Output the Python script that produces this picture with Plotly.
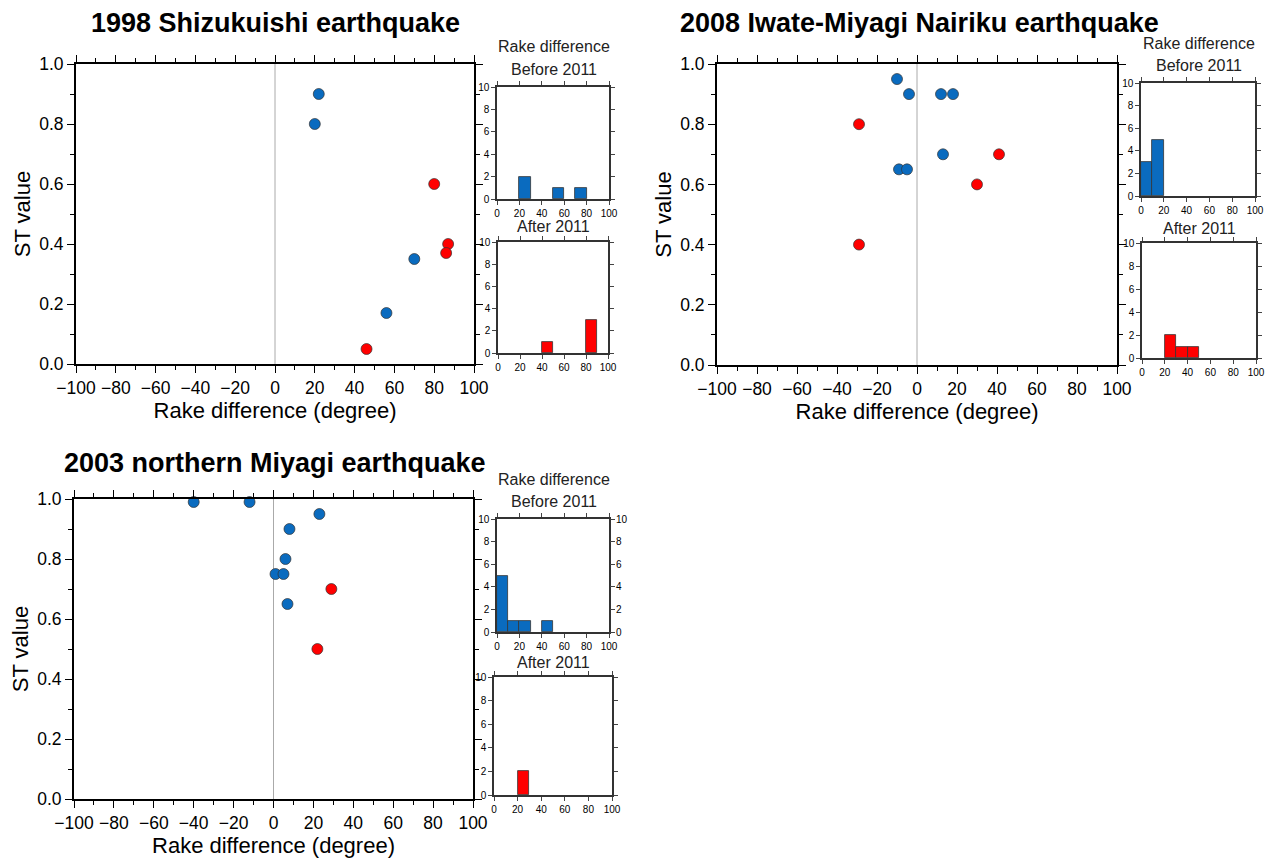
import plotly.graph_objects as go

W, H = 1270, 858

# ---- data ----
titles = ["1998 Shizukuishi earthquake", "2008 Iwate-Miyagi Nairiku earthquake", "2003 northern Miyagi earthquake"]

p1_before_x = [22, 20, 70, 56]
p1_before_y = [0.90, 0.80, 0.35, 0.17]
p1_after_x = [80, 87, 86, 46]
p1_after_y = [0.60, 0.40, 0.37, 0.05]

p2_before_x = [-10, -4, 12, 18, 13, -9, -5]
p2_before_y = [0.95, 0.90, 0.90, 0.90, 0.70, 0.65, 0.65]
p2_after_x = [-29, -29, 41, 30]
p2_after_y = [0.80, 0.40, 0.70, 0.60]

p3_before_x = [-40, -12, 23, 8, 6, 1, 5, 7]
p3_before_y = [0.99, 0.99, 0.95, 0.90, 0.80, 0.75, 0.75, 0.65]
p3_after_x = [29, 22]
p3_after_y = [0.70, 0.50]

bin_centers = [5, 15, 25, 35, 45, 55, 65, 75, 85, 95]
p1_hist_before = [0, 0, 2, 0, 0, 1, 0, 1, 0, 0]
p1_hist_after = [0, 0, 0, 0, 1, 0, 0, 0, 3, 0]
p2_hist_before = [3, 5, 0, 0, 0, 0, 0, 0, 0, 0]
p2_hist_after = [0, 0, 2, 1, 1, 0, 0, 0, 0, 0]
p3_hist_before = [5, 1, 1, 0, 1, 0, 0, 0, 0, 0]
p3_hist_after = [0, 0, 2, 0, 0, 0, 0, 0, 0, 0]

BLUE = "#0a6bbf"
RED = "#ff0000"
FONT = "Liberation Sans, Arial, Helvetica, sans-serif"


def px_x(p):
    return p / W


def px_y(p):
    return 1 - p / H


fig = go.Figure()
layout = dict(width=W, height=H, margin=dict(l=0, r=0, t=0, b=0, autoexpand=False),
              paper_bgcolor="white", plot_bgcolor="white", showlegend=False,
              font=dict(family=FONT, color="black"))
annotations = []
shapes = []

# main panels: (left, right, top, bottom) in pixels
main_boxes = [(76, 474, 64, 364), (717, 1117, 64, 365), (74, 473, 499, 799)]
main_data = [
    (p1_before_x, p1_before_y, p1_after_x, p1_after_y),
    (p2_before_x, p2_before_y, p2_after_x, p2_after_y),
    (p3_before_x, p3_before_y, p3_after_x, p3_after_y),
]
title_pos = [(275, 23), (919, 23), (275, 463)]

# histogram boxes: (left, right, top, bottom)
hist_boxes = [
    [(497, 609, 87, 199), (498, 608, 242, 353)],
    [(1141, 1255, 83, 196), (1142, 1256, 243, 358)],
    [(497, 609, 519, 632), (494, 612, 677, 795)],
]
hist_data = [
    (p1_hist_before, p1_hist_after),
    (p2_hist_before, p2_hist_after),
    (p3_hist_before, p3_hist_after),
]

ax = 0


def axname(i):
    return "" if i == 1 else str(i)


for k in range(3):
    # --- main scatter ---
    ax += 1
    n = axname(ax)
    l, r, t, b = main_boxes[k]
    layout["xaxis" + n] = dict(
        domain=[px_x(l), px_x(r)], anchor="y" + n, range=[-100, 100], automargin=False,
        tickmode="array", tickvals=list(range(-100, 101, 20)),
        ticktext=[("\u2212" + str(-v)) if v < 0 else str(v) for v in range(-100, 101, 20)],
        ticks="outside", ticklen=7, tickwidth=1, tickcolor="black",
        minor=dict(dtick=10, ticklen=4, tickwidth=1, tickcolor="black", ticks="outside"),
        showline=True, linewidth=2, linecolor="black", mirror="allticks",
        showgrid=False, zeroline=False,
        tickfont=dict(size=17.5, family=FONT),
        title=dict(text="Rake difference (degree)", font=dict(size=22, family=FONT), standoff=4),
        fixedrange=True)
    layout["yaxis" + n] = dict(
        domain=[px_y(b), px_y(t)], anchor="x" + n, range=[0, 1], automargin=False,
        tickmode="array", tickvals=[0, 0.2, 0.4, 0.6, 0.8, 1.0],
        ticktext=["0.0", "0.2", "0.4", "0.6", "0.8", "1.0"],
        ticks="outside", ticklen=7, tickwidth=1, tickcolor="black",
        minor=dict(dtick=0.1, ticklen=4, tickwidth=1, tickcolor="black", ticks="outside"),
        showline=True, linewidth=2, linecolor="black", mirror="allticks",
        showgrid=False, zeroline=False,
        tickfont=dict(size=17.5, family=FONT),
        title=dict(text="ST value", font=dict(size=22, family=FONT), standoff=2),
        fixedrange=True)
    shapes.append(dict(type="line", xref="x" + n, yref="y" + n, x0=0, x1=0, y0=0, y1=1,
                       line=dict(color="#aaaaaa", width=1), layer="below"))
    bx, by, axx, ayy = main_data[k]
    fig.add_trace(go.Scatter(x=bx, y=by, mode="markers", xaxis="x" + n, yaxis="y" + n,
                             cliponaxis=False,
                             marker=dict(color=BLUE, size=11, line=dict(color="#333333", width=0.7))))
    fig.add_trace(go.Scatter(x=axx, y=ayy, mode="markers", xaxis="x" + n, yaxis="y" + n,
                             cliponaxis=False,
                             marker=dict(color=RED, size=11, line=dict(color="#333333", width=0.7))))
    tx, ty = title_pos[k]
    annotations.append(dict(text="<b>" + titles[k] + "</b>", xref="paper", yref="paper",
                            x=px_x(tx), y=px_y(ty), xanchor="center", yanchor="middle",
                            showarrow=False, font=dict(size=27, family=FONT, color="black")))

    # --- histograms ---
    for j in range(2):
        ax += 1
        n = axname(ax)
        l, r, t, b = hist_boxes[k][j]
        layout["xaxis" + n] = dict(
            domain=[px_x(l), px_x(r)], anchor="y" + n, range=[0, 100], automargin=False,
            tickmode="array", tickvals=list(range(0, 101, 20)),
            ticks="outside", ticklen=4, tickwidth=1, tickcolor="#444444",
            showline=True, linewidth=1.5, linecolor="#333333", mirror="allticks",
            showgrid=False, zeroline=False,
            tickfont=dict(size=10, family=FONT), fixedrange=True)
        layout["yaxis" + n] = dict(
            domain=[px_y(b), px_y(t)], anchor="x" + n, range=[0, 10], automargin=False,
            tickmode="array", tickvals=list(range(0, 11, 2)),
            ticks="outside", ticklen=4, tickwidth=1, tickcolor="#444444",
            showline=True, linewidth=1.5, linecolor="#333333", mirror="allticks",
            showgrid=False, zeroline=False,
            tickfont=dict(size=10, family=FONT), fixedrange=True)
        counts = hist_data[k][j]
        xs = [c for c, v in zip(bin_centers, counts) if v > 0]
        ys = [v for v in counts if v > 0]
        fig.add_trace(go.Bar(x=xs, y=ys, width=10, xaxis="x" + n, yaxis="y" + n,
                             marker=dict(color=BLUE if j == 0 else RED,
                                         line=dict(color="#333333", width=0.8))))
        cx = (l + r) / 2
        if j == 0:
            annotations.append(dict(text="Rake difference", xref="paper", yref="paper",
                                    x=px_x(cx + 1), y=px_y(t - 40), xanchor="center", yanchor="middle",
                                    showarrow=False, font=dict(size=16, family=FONT, color="#222222")))
            annotations.append(dict(text="Before 2011", xref="paper", yref="paper",
                                    x=px_x(cx + 1), y=px_y(t - 18), xanchor="center", yanchor="middle",
                                    showarrow=False, font=dict(size=16, family=FONT, color="#222222")))
        else:
            annotations.append(dict(text="After 2011", xref="paper", yref="paper",
                                    x=px_x(cx), y=px_y(t - 15), xanchor="center", yanchor="middle",
                                    showarrow=False, font=dict(size=16, family=FONT, color="#222222")))
        if k == 2 and j == 0:
            # right-side labels on this histogram
            ax += 1
            m = axname(ax)
            layout["yaxis" + m] = dict(
                overlaying="y" + n, side="right", anchor="x" + n, range=[0, 10], automargin=False,
                tickmode="array", tickvals=list(range(0, 11, 2)),
                ticks="outside", ticklen=4, tickwidth=1, tickcolor="#444444",
                showline=False, showgrid=False, zeroline=False,
                tickfont=dict(size=10, family=FONT), fixedrange=True)
            fig.add_trace(go.Scatter(x=xs, y=ys, mode="markers", xaxis="x" + n, yaxis="y" + m,
                                     marker=dict(opacity=0, size=1), hoverinfo="skip"))

layout["annotations"] = annotations
layout["shapes"] = shapes
layout["bargap"] = 0
fig.update_layout(**layout)
fig.write_html("out.html")
